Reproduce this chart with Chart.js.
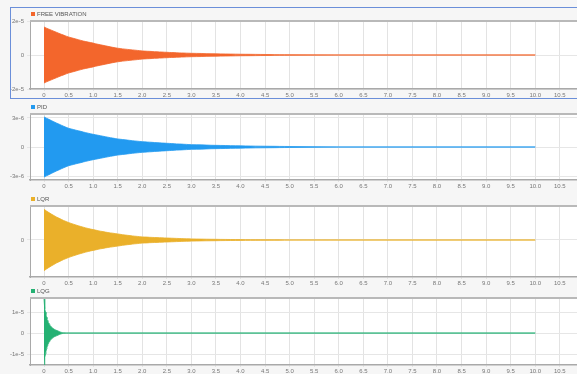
<!DOCTYPE html>
<html>
<head>
<meta charset="utf-8">
<script src="https://cdn.jsdelivr.net/npm/chart.js@4.4.0/dist/chart.umd.min.js"></script>
<style>
  body { margin: 0; width: 577px; height: 374px; overflow: hidden; background: #f6f6f6; position: relative; }
  canvas { position: absolute; left: 0; }
  #sel { position: absolute; left: 10px; top: 7px; width: 580px; height: 90px; border: 1.5px solid #6b8fd9; pointer-events: none; }
</style>
</head>
<body>
<canvas id="c1" width="577" height="92" style="top:8px"></canvas>
<canvas id="c2" width="577" height="91" style="top:100px"></canvas>
<canvas id="c3" width="577" height="95" style="top:191px"></canvas>
<canvas id="c4" width="577" height="88" style="top:286px"></canvas>
<div id="sel"></div>
<script>
// time samples (s) shared by the first three signals
const timeA = [
    0, 0.05, 0.1, 0.15, 0.2, 0.25, 0.3, 0.35, 0.4, 0.45,
    0.5, 0.55, 0.6, 0.65, 0.7, 0.75, 0.8, 0.85, 0.9, 0.95,
    1.0, 1.05, 1.1, 1.15, 1.2, 1.25, 1.3, 1.35, 1.4, 1.45,
    1.5, 1.55, 1.6, 1.65, 1.7, 1.75, 1.8, 1.85, 1.9, 1.95,
    2.0, 2.05, 2.1, 2.15, 2.2, 2.25, 2.3, 2.35, 2.4, 2.45,
    2.5, 2.55, 2.6, 2.65, 2.7, 2.75, 2.8, 2.85, 2.9, 2.95,
    3.0, 3.1, 3.2, 3.3, 3.4, 3.5, 3.6, 3.7, 3.8, 3.9,
    4.0, 4.1, 4.2, 4.3, 4.4, 4.5, 4.6, 4.7, 4.8, 4.9,
    5.0, 6.0, 10.0
];

// displacement peaks, in units of 1e-6
const freeVibration = [
    16.5, -15.8, 15.2, -14.6, 14.0, -13.4, 12.8, -12.2, 11.7, -11.1,
    10.6, -10.2, 9.8, -9.4, 9.0, -8.6, 8.2, -7.9, 7.6, -7.3,
    7.0, -6.6, 6.3, -6.0, 5.7, -5.4, 5.1, -4.8, 4.5, -4.25,
    4.0, -3.8, 3.6, -3.45, 3.3, -3.15, 3.0, -2.85, 2.7, -2.55,
    2.4, -2.3, 2.2, -2.15, 2.05, -1.95, 1.9, -1.8, 1.75, -1.65,
    1.6, -1.5, 1.45, -1.4, 1.3, -1.25, 1.2, -1.15, 1.1, -1.05,
    1.0, -0.95, 0.9, -0.8, 0.75, -0.7, 0.65, -0.6, 0.55, -0.5,
    0.45, -0.42, 0.4, -0.36, 0.33, -0.3, 0.27, -0.2, 0.18, -0.16,
    0.15, 0, 0
];

const pid = [
    3.10, -2.97, 2.85, -2.72, 2.60, -2.48, 2.37, -2.25, 2.14, -2.03,
    1.93, -1.86, 1.80, -1.73, 1.67, -1.61, 1.54, -1.48, 1.42, -1.36,
    1.31, -1.26, 1.21, -1.16, 1.11, -1.06, 1.01, -0.96, 0.92, -0.87,
    0.83, -0.80, 0.77, -0.74, 0.71, -0.68, 0.65, -0.62, 0.60, -0.57,
    0.55, -0.53, 0.51, -0.50, 0.48, -0.46, 0.45, -0.43, 0.41, -0.40,
    0.38, -0.37, 0.35, -0.34, 0.32, -0.31, 0.30, -0.28, 0.27, -0.25,
    0.24, -0.23, 0.22, -0.20, 0.18, -0.17, 0.16, -0.15, 0.14, -0.13,
    0.12, -0.11, 0.10, -0.09, 0.085, -0.08, 0.075, -0.07, 0.06, -0.055,
    0.05, 0, 0
];

const lqr = [
    3.07, -2.90, 2.74, -2.59, 2.45, -2.31, 2.19, -2.07, 1.95, -1.85,
    1.75, -1.66, 1.58, -1.50, 1.42, -1.35, 1.28, -1.21, 1.15, -1.09,
    1.04, -0.99, 0.93, -0.88, 0.84, -0.79, 0.75, -0.71, 0.68, -0.64,
    0.61, -0.57, 0.53, -0.50, 0.47, -0.44, 0.41, -0.38, 0.36, -0.33,
    0.31, -0.30, 0.29, -0.27, 0.26, -0.25, 0.24, -0.23, 0.22, -0.21,
    0.20, -0.19, 0.18, -0.17, 0.16, -0.15, 0.14, -0.13, 0.125, -0.12,
    0.11, -0.10, 0.09, -0.08, 0.075, -0.07, 0.06, -0.055, 0.05, -0.045,
    0.04, -0.035, 0.03, -0.03, 0.025, -0.02, 0.02, -0.015, 0.015, -0.01,
    0.01, 0, 0
];

// LQG settles much faster, so it has its own denser time base
const timeLqg = [
    0, 0.01, 0.02, 0.03, 0.04, 0.05, 0.06, 0.07, 0.08, 0.09,
    0.10, 0.11, 0.12, 0.13, 0.14, 0.15, 0.16, 0.17, 0.18, 0.19,
    0.20, 0.21, 0.22, 0.23, 0.24, 0.25, 0.26, 0.27, 0.28, 0.29,
    0.30, 0.32, 0.34, 0.36, 0.38, 0.40, 0.45, 10.0
];
const lqg = [
    16.2, -13.8, 11.5, -10.0, 8.8, -7.6, 6.7, -6.0, 5.4, -4.8,
    4.4, -4.0, 3.6, -3.3, 3.0, -2.8, 2.6, -2.4, 2.2, -2.0,
    1.9, -1.7, 1.6, -1.5, 1.4, -1.3, 1.2, -1.1, 1.0, -0.9,
    0.8, -0.6, 0.45, -0.3, 0.2, -0.1, 0, 0
];

const UNIT = 1e-6;
const FONT = '"Liberation Sans", Arial, sans-serif';

// white plot area, top frame line and a small square legend
const panelPlugin = {
    id: 'panel',
    beforeDraw(chart) {
        const a = chart.chartArea, ctx = chart.ctx;
        ctx.save();
        ctx.fillStyle = '#ffffff';
        ctx.fillRect(a.left, a.top, a.right - a.left, a.bottom - a.top);
        ctx.restore();
    },
    afterDraw(chart) {
        const a = chart.chartArea, ctx = chart.ctx;
        const opts = chart.options.plugins.panel;
        ctx.save();
        ctx.fillStyle = '#b9b9b9';
        ctx.fillRect(a.left, a.top - 1, a.right - a.left, 2);
        ctx.fillStyle = opts.color;
        ctx.fillRect(a.left + 1, a.top - 9, 4, 4);
        ctx.fillStyle = '#555';
        ctx.font = '6px ' + FONT;
        ctx.textBaseline = 'middle';
        ctx.fillText(opts.label, a.left + 7, a.top - 6.8);
        ctx.restore();
    }
};

function fmtY(v) {
    if (Math.abs(v) < 1e-12) return '0';
    return Number(v.toPrecision(3)).toExponential();
}

function makePanel(id, label, color, stripe, times, values, yMin, yMax, yStep, padTop, axisH) {
    const signal = times.map((t, i) => ({ x: t, y: values[i] * UNIT }));
    const upper = times.map((t, i) => ({ x: t, y: Math.abs(values[i]) * UNIT }));
    const lower = times.map((t, i) => ({ x: t, y: -Math.abs(values[i]) * UNIT }));
    new Chart(document.getElementById(id), {
        type: 'line',
        data: {
            datasets: [
                { label: label, data: upper, borderColor: color, borderWidth: 0.8,
                  backgroundColor: color, fill: '+1', pointRadius: 0, tension: 0 },
                { label: label, data: lower, borderColor: color, borderWidth: 0.8,
                  pointRadius: 0, tension: 0, fill: false },
                { label: label, data: signal, borderColor: stripe, borderWidth: 0.7,
                  stepped: true, pointRadius: 0, fill: false }
            ]
        },
        options: {
            responsive: false,
            animation: false,
            devicePixelRatio: 1,
            layout: { padding: { top: padTop, left: 0, right: 0, bottom: 0 } },
            plugins: {
                legend: { display: false },
                tooltip: { enabled: false },
                panel: { label: label, color: color }
            },
            scales: {
                x: {
                    type: 'linear',
                    min: -0.285,
                    max: 10.85,
                    afterFit: s => { s.height = axisH; },
                    border: { color: '#a9a9a9', width: 1.5 },
                    grid: { color: '#e3e3e3', tickLength: 2 },
                    ticks: {
                        stepSize: 0.5,
                        includeBounds: false,
                        maxRotation: 0,
                        autoSkip: false,
                        padding: 1,
                        color: '#777',
                        font: { size: 6, family: FONT },
                        callback: v => (Math.abs(v) < 1e-9 ? '0' : v.toFixed(1))
                    }
                },
                y: {
                    min: yMin,
                    max: yMax,
                    afterFit: s => { s.width = 30; },
                    border: { color: '#a9a9a9', width: 1 },
                    grid: { color: '#e6e6e6', tickLength: 3 },
                    ticks: {
                        stepSize: yStep,
                        includeBounds: false,
                        padding: 3,
                        color: '#777',
                        font: { size: 6, family: FONT },
                        callback: fmtY
                    }
                }
            }
        },
        plugins: [panelPlugin]
    });
}

makePanel('c1', 'FREE VIBRATION', '#f3662c', 'rgba(255,255,255,0.28)', timeA, freeVibration, -2e-5, 2e-5, 2e-5, 13, 11);
makePanel('c2', 'PID', '#229af0', 'rgba(255,255,255,0.28)', timeA, pid, -3.4e-6, 3.4e-6, 3e-6, 14, 11);
makePanel('c3', 'LQR', '#eab02a', 'rgba(255,255,255,0.28)', timeA, lqr, -3.7e-6, 3.4e-6, 5e-6, 15, 9);
makePanel('c4', 'LQG', '#25b173', 'rgba(255,255,255,0.28)', timeLqg, lqg, -1.52e-5, 1.67e-5, 1e-5, 12, 9);
</script>
</body>
</html>
